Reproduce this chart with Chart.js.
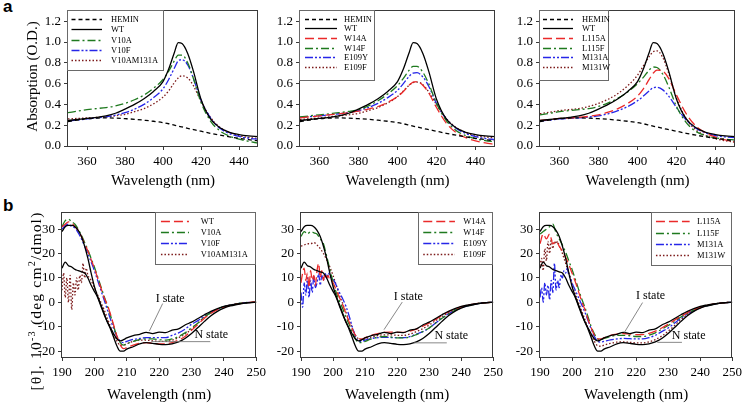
<!DOCTYPE html>
<html>
<head>
<meta charset="utf-8">
<script src="https://cdn.jsdelivr.net/npm/chart.js@4.4.1/dist/chart.umd.min.js"></script>
<style>
  body { margin: 0; background: #fff; }
  #wrap { position: relative; width: 747px; height: 408px; overflow: hidden; }
  canvas { position: absolute; }
  .tag { position: absolute; font: bold 17px "Liberation Sans", Arial, sans-serif; line-height: 17px; }
</style>
</head>
<body>
<div id="wrap">
  <div class="tag" style="left:3px;top:-2px">a</div>
  <div class="tag" style="left:3px;top:197px">b</div>
  <canvas id="a1"></canvas>
  <canvas id="a2"></canvas>
  <canvas id="a3"></canvas>
  <canvas id="b1"></canvas>
  <canvas id="b2"></canvas>
  <canvas id="b3"></canvas>
</div>
<script>
// ---- absorption spectra (row a) ----
const absWave = [350, 355, 360, 365, 370, 375, 380, 385, 390, 395, 400, 403, 406, 408, 410, 413, 416, 420, 425, 430, 435, 440, 445, 450];
const absHemin = [0.235, 0.25, 0.262, 0.268, 0.27, 0.268, 0.263, 0.257, 0.248, 0.238, 0.225, 0.214, 0.2, 0.191, 0.183, 0.17, 0.158, 0.142, 0.122, 0.104, 0.088, 0.074, 0.061, 0.05];
const absWT = [0.245, 0.255, 0.265, 0.276, 0.29, 0.315, 0.355, 0.4, 0.455, 0.525, 0.62, 0.74, 0.9, 0.995, 0.985, 0.89, 0.72, 0.45, 0.26, 0.175, 0.132, 0.11, 0.097, 0.09];
const absV10A = [0.32, 0.335, 0.35, 0.36, 0.37, 0.385, 0.41, 0.445, 0.49, 0.555, 0.64, 0.72, 0.82, 0.875, 0.875, 0.8, 0.65, 0.42, 0.24, 0.145, 0.095, 0.065, 0.045, 0.028];
const absV10F = [0.24, 0.25, 0.26, 0.27, 0.28, 0.297, 0.32, 0.355, 0.4, 0.465, 0.55, 0.64, 0.75, 0.82, 0.83, 0.78, 0.65, 0.44, 0.27, 0.17, 0.12, 0.092, 0.075, 0.065];
const absV10AM131A = [0.26, 0.265, 0.27, 0.275, 0.28, 0.29, 0.305, 0.33, 0.36, 0.405, 0.47, 0.53, 0.61, 0.655, 0.675, 0.655, 0.58, 0.43, 0.275, 0.18, 0.13, 0.1, 0.082, 0.072];
const absW14A = [0.27, 0.28, 0.29, 0.3, 0.31, 0.32, 0.335, 0.355, 0.38, 0.42, 0.475, 0.525, 0.585, 0.615, 0.62, 0.585, 0.51, 0.37, 0.22, 0.13, 0.08, 0.05, 0.03, 0.015];
const absW14F = [0.28, 0.29, 0.3, 0.31, 0.32, 0.333, 0.35, 0.385, 0.435, 0.5, 0.58, 0.65, 0.73, 0.765, 0.765, 0.71, 0.6, 0.41, 0.245, 0.15, 0.1, 0.07, 0.052, 0.04];
const absE109Y = [0.275, 0.283, 0.29, 0.3, 0.31, 0.322, 0.34, 0.37, 0.41, 0.465, 0.535, 0.6, 0.67, 0.7, 0.705, 0.665, 0.575, 0.41, 0.26, 0.17, 0.12, 0.09, 0.072, 0.062];
const absE109F = [0.255, 0.263, 0.27, 0.28, 0.29, 0.3, 0.315, 0.34, 0.37, 0.415, 0.475, 0.53, 0.585, 0.61, 0.615, 0.59, 0.52, 0.4, 0.265, 0.18, 0.13, 0.1, 0.087, 0.078];
const absL115A = [0.245, 0.255, 0.265, 0.27, 0.275, 0.285, 0.3, 0.325, 0.36, 0.41, 0.48, 0.55, 0.64, 0.7, 0.73, 0.72, 0.65, 0.49, 0.31, 0.19, 0.125, 0.085, 0.058, 0.04];
const absL115F = [0.3, 0.315, 0.33, 0.34, 0.35, 0.36, 0.38, 0.415, 0.46, 0.52, 0.6, 0.66, 0.73, 0.76, 0.755, 0.69, 0.57, 0.38, 0.225, 0.14, 0.1, 0.078, 0.066, 0.058];
const absM131A = [0.24, 0.25, 0.26, 0.265, 0.27, 0.278, 0.29, 0.31, 0.34, 0.38, 0.435, 0.48, 0.53, 0.56, 0.565, 0.54, 0.48, 0.37, 0.25, 0.17, 0.125, 0.1, 0.087, 0.08];
const absM131W = [0.31, 0.325, 0.34, 0.35, 0.36, 0.38, 0.41, 0.45, 0.505, 0.58, 0.68, 0.77, 0.86, 0.905, 0.915, 0.85, 0.7, 0.46, 0.26, 0.155, 0.1, 0.07, 0.05, 0.037];
const absXTicks = [360, 380, 400, 420, 440];
const absYTicks = [0, 0.2, 0.4, 0.6, 0.8, 1.0, 1.2];

// ---- CD spectra (row b) ----
const cdWave = [190, 191, 192, 193, 194, 195, 196, 197, 198, 199, 200, 201, 202, 203, 204, 205, 206, 207, 208, 209, 210,
  212, 214, 216, 218, 220, 222, 224, 226, 228, 230, 232, 234, 236, 238, 240, 242, 244, 246, 248, 250];
const cdWaveFine = [190, 190.5, 191, 191.5, 192, 192.5, 193, 193.5, 194, 194.5, 195, 195.5, 196, 196.5, 197, 197.5, 198, 198.5, 199, 199.5, 200,
  201, 202, 203, 204, 205, 206, 207, 208, 209, 210,
  212, 214, 216, 218, 220, 222, 224, 226, 228, 230, 232, 234, 236, 238, 240, 242, 244, 246, 248, 250];
const cdIState = [14, 16.5, 15, 14.5, 13.5, 13, 12.5, 12, 10, 7, 4.5, 2, -1.5, -5, -8, -10.5, -13, -15, -15.8, -15.3, -14.6,
  -13.6, -13.1, -12.3, -12.8, -12.2, -12.4, -11.4, -10.9, -9.3, -8.1, -6.6, -5.1, -3.7, -2.6, -1.7, -1.1, -0.6, -0.3, -0.1, 0];
const cdNState = [29, 31, 31.5, 31.5, 31, 29.5, 27, 23, 18, 12, 6.5, 2.5, -1, -4.5, -8, -11, -14.5, -18, -20, -20, -19.2,
  -18.2, -17, -16.5, -16.8, -17.2, -17.3, -17, -16.2, -14.8, -12.8, -10.3, -7.8, -5.5, -3.7, -2.4, -1.5, -0.9, -0.4, -0.1, 0];
const cdWT = [31, 32, 33, 32.5, 31, 29.5, 27, 24, 21, 17.5, 14, 10, 6, 2, -1, -5, -9.5, -14, -17.5, -19, -18.5,
  -17.5, -16.8, -16.5, -16.8, -17, -17, -16.5, -15.5, -14, -11.5, -9, -6.5, -4.5, -3, -2, -1.2, -0.7, -0.3, 0, 0.2];
const cdV10A = [31, 33.5, 34, 33, 32, 30, 27.5, 24.5, 21.5, 18, 14.5, 10.5, 6.5, 2.5, -1.5, -5.5, -10, -14, -16.5, -17.5, -17,
  -16, -15.3, -15, -15, -15.3, -15.5, -15, -14, -12.5, -10.5, -8.5, -6, -4.2, -2.8, -1.8, -1.1, -0.6, -0.2, 0, 0.1];
const cdV10F = [30, 31.5, 32, 31, 30.5, 28.5, 26, 23, 20, 16.5, 13, 9, 5, 1, -3, -7, -11, -14, -16, -16.5, -16,
  -15.2, -14.8, -14.5, -14.5, -14.5, -14.5, -13.5, -12.5, -11, -9, -7.5, -5.5, -4, -2.8, -1.8, -1.1, -0.6, -0.2, 0, 0.1];
const cdV10AM131A = [5, 12, 2, 10, 0, 11, -3, 8, 3, 10, 5, 11, 8, 16, 10, 14, 11, 10, 9, 7.5, 6,
  3, 0, -3, -6.5, -10, -13.5, -16, -17.5, -17.5, -17,
  -16, -15.5, -15.5, -15.8, -16, -16, -15.5, -14.5, -13, -11, -8.5, -6, -4.3, -2.9, -1.9, -1.1, -0.6, -0.3, -0.1, 0];
const cdW14A = [8, 12, 14, 9, 12, 6, 13, 9, 11, 7, 13, 16, 10, 13, 9, 12, 10, 11, 9, 9, 8,
  5, 2, -1, -4.5, -8, -11, -13.5, -15, -15, -14.5,
  -13.5, -12.8, -12.3, -12.2, -12.3, -12.3, -11.8, -11, -9.8, -8.5, -7, -5.3, -3.9, -2.8, -1.9, -1.2, -0.7, -0.3, -0.1, 0];
const cdW14F = [27, 29, 28, 29, 28.5, 28, 26, 24, 19, 13.5, 8.5, 4, 0.5, -2.5, -6, -9, -12, -15, -16.5, -16.5, -16,
  -15, -14.3, -14, -14.2, -14.6, -14.6, -14.2, -13.2, -12, -10.5, -8.5, -6.5, -4.8, -3.3, -2.3, -1.4, -0.8, -0.4, -0.1, 0];
const cdE109Y = [4, -2, 8, 3, 10, 2, 9, 4, 11, 6, 8, 12, 7, 11, 9, 12, 10, 12, 11, 10, 9.5,
  7, 4, 1.5, -1.5, -5.5, -10, -14, -16, -16, -15.5,
  -14.8, -14.5, -14.3, -14.4, -14.5, -14.5, -14, -13, -12, -10.5, -8.5, -6.5, -4.7, -3.3, -2.2, -1.4, -0.8, -0.4, -0.1, 0];
const cdE109F = [23, 23.5, 24, 24, 24.5, 23.5, 22, 20, 17.5, 14.5, 11, 7, 3, -0.5, -4, -7.5, -10.5, -13.5, -15, -15.5, -15,
  -14.2, -13.6, -13.3, -13.3, -13.5, -13.5, -13, -12, -10.8, -9.3, -7.5, -5.8, -4.2, -3, -2, -1.2, -0.7, -0.3, -0.1, 0];
const cdL115A = [24, 28, 26, 28, 24, 25, 23, 21, 18.5, 15.5, 12, 8.5, 4.5, 0.5, -3, -7, -10.5, -13.5, -15, -15, -14.5,
  -13.5, -13, -12.8, -13, -13.2, -13.2, -12.7, -11.8, -10.5, -9, -7.3, -5.7, -4.2, -3, -2, -1.3, -0.7, -0.3, -0.1, 0];
const cdL115F = [28, 29, 30, 31, 32, 28.5, 26, 23.5, 20.5, 17, 13.5, 9.5, 5.5, 1.5, -2, -6, -10, -13, -15, -15.3, -14.8,
  -14, -13.5, -13.5, -13.7, -14, -14, -13.5, -12.5, -11, -9.5, -7.8, -6, -4.5, -3.2, -2.2, -1.4, -0.8, -0.4, -0.1, 0];
const cdM131A = [2, 6, 0, 8, 3, 7, 1, 9, 4, 16, 5, 9, 6, 11, 10, 13, 12, 14, 11, 10, 8,
  5, 2, -1, -4, -7.5, -11, -14, -16, -16.3, -16,
  -15.4, -15, -14.8, -14.9, -15, -15, -14.5, -13.5, -12, -10.5, -8.5, -6.5, -4.7, -3.3, -2.2, -1.4, -0.8, -0.4, -0.1, 0];
const cdM131W = [15, 18, 13, 22, 17, 25, 20, 26, 22, 25, 24, 25, 23, 22, 20, 18, 16, 14, 12, 10, 7.5,
  3.5, 0, -3.5, -7, -10.5, -13.5, -16, -17.8, -18, -17.5,
  -16.8, -16.3, -16.2, -16.4, -16.6, -16.6, -16.2, -15.3, -13.8, -11.8, -9.5, -7, -5, -3.5, -2.3, -1.4, -0.8, -0.4, -0.1, 0];
const cdXTicks = [190, 200, 210, 220, 230, 240, 250];
const cdYTicks = [-20, -10, 0, 10, 20, 30];

const SERIF = '"Liberation Serif", "Times New Roman", serif';
const RED = '#ea2a2a', GREEN = '#1f7a1f', BLUE = '#2626e8', BROWN = '#7c1a1a', BLACK = '#000000';
const DASH_HEMIN = [4, 3], DASH_RED = [9, 4], DASH_GREEN = [8, 3, 2, 3], DASH_BLUE = [8, 2, 2, 2, 2, 2], DASH_BROWN = [1.5, 2];

function series(label, xs, ys, color, dash, inLegend = true) {
    return {
        label: label,
        data: xs.map((x, i) => ({ x: x, y: ys[i] })),
        borderColor: color,
        borderDash: dash,
        borderWidth: 1.3,
        pointRadius: 0,
        fill: false,
        cubicInterpolationMode: 'monotone',
        inLegend: inLegend
    };
}

// frame round the plot area
const framePlugin = {
    id: 'frame',
    afterDraw(chart) {
        const { ctx, chartArea: a } = chart;
        ctx.save();
        ctx.strokeStyle = '#3a3a3a';
        ctx.lineWidth = 1;
        ctx.strokeRect(Math.round(a.left) - 0.5, Math.round(a.top) + 0.5, Math.round(a.right - a.left), Math.round(a.bottom - a.top));
        ctx.restore();
    }
};

// legend box drawn inside the plot area
function boxLegend(o) {
    return {
        id: 'boxLegend',
        afterDraw(chart) {
            const { ctx, chartArea: a } = chart;
            const left = o.anchor === 'right' ? a.right - o.w : a.left;
            const top = a.top;
            ctx.save();
            ctx.fillStyle = '#fff';
            ctx.fillRect(left, top, o.w, o.h);
            ctx.strokeStyle = '#6a6a6a';
            ctx.lineWidth = 1;
            ctx.strokeRect(Math.round(left) - 0.5, Math.round(top) + 0.5, o.w, o.h);
            ctx.font = o.size + 'px ' + SERIF;
            ctx.textBaseline = 'middle';
            chart.data.datasets.filter(d => d.inLegend).forEach((d, i) => {
                const y = Math.round(top + o.first + i * o.row) + 0.5;
                ctx.strokeStyle = d.borderColor;
                ctx.lineWidth = d.borderWidth;
                ctx.setLineDash(d.borderDash || []);
                ctx.beginPath();
                ctx.moveTo(left + o.lineFrom, y);
                ctx.lineTo(left + o.lineTo, y);
                ctx.stroke();
                ctx.setLineDash([]);
                ctx.fillStyle = '#000';
                ctx.fillText(d.label, left + o.textAt, y);
            });
            ctx.restore();
        }
    };
}

// "I state" / "N state" labels with leader lines, in data units
function stateNotes(items) {
    return {
        id: 'stateNotes',
        afterDatasetsDraw(chart) {
            const { ctx, scales: { x, y } } = chart;
            ctx.save();
            ctx.strokeStyle = '#7a7a7a';
            ctx.lineWidth = 0.9;
            ctx.font = '12px ' + SERIF;
            ctx.fillStyle = '#000';
            ctx.textAlign = 'center';
            ctx.textBaseline = 'middle';
            items.forEach(n => {
                ctx.beginPath();
                ctx.moveTo(x.getPixelForValue(n.line[0]), y.getPixelForValue(n.line[1]));
                ctx.lineTo(x.getPixelForValue(n.line[2]), y.getPixelForValue(n.line[3]));
                ctx.stroke();
                ctx.fillText(n.text, x.getPixelForValue(n.at[0]), y.getPixelForValue(n.at[1]));
            });
            ctx.restore();
        }
    };
}

// rotated y title with superscript pieces, drawn char by char so it can be spaced out
function sideTitle(o) {
    return {
        id: 'sideTitle',
        afterDraw(chart) {
            const ctx = chart.ctx;
            const gap = o.spacing || 0;
            const fontFor = sup => (sup ? o.size * 0.66 : o.size) + 'px ' + SERIF;
            ctx.save();
            ctx.translate(o.x, o.y);
            ctx.rotate(-Math.PI / 2);
            let total = 0;
            o.parts.forEach(p => {
                ctx.font = fontFor(p[1]);
                for (const ch of p[0]) total += ctx.measureText(ch).width + gap;
            });
            let cx = -total / 2;
            ctx.fillStyle = '#000';
            ctx.textBaseline = 'alphabetic';
            o.parts.forEach(p => {
                ctx.font = fontFor(p[1]);
                const base = o.size * 0.35 - (p[1] ? o.size * 0.42 : 0);
                for (const ch of p[0]) {
                    ctx.fillText(ch, cx, base);
                    cx += ctx.measureText(ch).width + gap;
                }
            });
            ctx.restore();
        }
    };
}

function makePanel(id, box, cfg) {
    const cv = document.getElementById(id);
    cv.width = box.w;
    cv.height = box.h;
    cv.style.left = box.x + 'px';
    cv.style.top = box.y + 'px';
    const plugins = [framePlugin, stateNotes(cfg.notes || []), boxLegend(cfg.legend)];
    if (cfg.yTitle) plugins.push(sideTitle(cfg.yTitle));
    return new Chart(cv, {
        type: 'line',
        data: { datasets: cfg.datasets },
        options: {
            responsive: false,
            animation: false,
            devicePixelRatio: 1,
            layout: { padding: box.pad },
            plugins: { legend: { display: false }, tooltip: { enabled: false } },
            scales: {
                x: {
                    type: 'linear',
                    min: cfg.xMin,
                    max: cfg.xMax,
                    afterBuildTicks: s => { s.ticks = cfg.xTicks.map(v => ({ value: v })); },
                    afterFit: s => { s.height = box.xh; },
                    border: { display: false },
                    grid: { drawOnChartArea: false, drawTicks: true, tickLength: 4, color: '#3a3a3a' },
                    ticks: { color: '#000', font: { family: SERIF, size: 13 }, padding: 4, maxRotation: 0, autoSkip: false },
                    title: { display: true, text: 'Wavelength (nm)', color: '#000', font: { family: SERIF, size: 15 }, padding: 0 }
                },
                y: {
                    min: cfg.yMin,
                    max: cfg.yMax,
                    afterBuildTicks: s => { s.ticks = cfg.yTicks.map(v => ({ value: v })); },
                    afterFit: s => { s.width = 40; },
                    border: { display: false },
                    grid: { drawOnChartArea: false, drawTicks: true, tickLength: 4, color: '#3a3a3a' },
                    ticks: { color: '#000', font: { family: SERIF, size: 13 }, padding: 3, autoSkip: false, callback: cfg.yFormat }
                }
            }
        },
        plugins: plugins
    });
}

const absFormat = v => v.toFixed(1);
const cdFormat = v => String(v);
const rowA = { xMin: 350, xMax: 450, xTicks: absXTicks, yMin: 0, yMax: 1.31, yTicks: absYTicks, yFormat: absFormat };
const rowB = { xMin: 190, xMax: 250, xTicks: cdXTicks, yMin: -22.4, yMax: 37.1, yTicks: cdYTicks, yFormat: cdFormat };

function absBase() {
    return [
        series('HEMIN', absWave, absHemin, BLACK, DASH_HEMIN),
        series('WT', absWave, absWT, BLACK, [])
    ];
}
function cdBase() {
    return [
        series('I state', cdWave, cdIState, BLACK, [], false),
        series('N state', cdWave, cdNState, BLACK, [], false)
    ];
}

makePanel('a1', { x: 0, y: -1, w: 264, h: 191, xh: 44, pad: { left: 28, right: 6, top: 8, bottom: 0 } }, Object.assign({}, rowA, {
    datasets: absBase().concat([
        series('V10A', absWave, absV10A, GREEN, DASH_GREEN),
        series('V10F', absWave, absV10F, BLUE, DASH_BLUE),
        series('V10AM131A', absWave, absV10AM131A, BROWN, DASH_BROWN)
    ]),
    legend: { anchor: 'left', w: 96, h: 60, first: 9, row: 10.4, lineFrom: 3.5, lineTo: 34, textAt: 43, size: 8.5 },
    yTitle: { x: 31.5, y: 77.5, size: 15, parts: [['Absorption (O.D.)', false]] }
}));

makePanel('a2', { x: 260, y: -1, w: 241, h: 191, xh: 44, pad: { left: 0, right: 6, top: 8, bottom: 0 } }, Object.assign({}, rowA, {
    datasets: absBase().concat([
        series('W14A', absWave, absW14A, RED, DASH_RED),
        series('W14F', absWave, absW14F, GREEN, DASH_GREEN),
        series('E109Y', absWave, absE109Y, BLUE, DASH_BLUE),
        series('E109F', absWave, absE109F, BROWN, DASH_BROWN)
    ]),
    legend: { anchor: 'left', w: 75, h: 70, first: 8.7, row: 9.7, lineFrom: 5, lineTo: 37, textAt: 44, size: 8.5 }
}));

makePanel('a3', { x: 500, y: -1, w: 241, h: 191, xh: 44, pad: { left: 0, right: 6, top: 8, bottom: 0 } }, Object.assign({}, rowA, {
    datasets: absBase().concat([
        series('L115A', absWave, absL115A, RED, DASH_RED),
        series('L115F', absWave, absL115F, GREEN, DASH_GREEN),
        series('M131A', absWave, absM131A, BLUE, DASH_BLUE),
        series('M131W', absWave, absM131W, BROWN, DASH_BROWN)
    ]),
    legend: { anchor: 'left', w: 69, h: 70, first: 8.7, row: 9.7, lineFrom: 3, lineTo: 33, textAt: 42, size: 8.5 }
}));

makePanel('b1', { x: 0, y: 201, w: 270, h: 203, xh: 47, pad: { left: 22, right: 12, top: 8, bottom: 0 } }, Object.assign({}, rowB, {
    datasets: cdBase().concat([
        series('WT', cdWave, cdWT, RED, DASH_RED),
        series('V10A', cdWave, cdV10A, GREEN, DASH_GREEN),
        series('V10F', cdWave, cdV10F, BLUE, DASH_BLUE),
        series('V10AM131A', cdWaveFine, cdV10AM131A, BROWN, DASH_BROWN)
    ]),
    legend: { anchor: 'right', w: 100, h: 52, first: 9, row: 11.2, lineFrom: 4.7, lineTo: 32.7, textAt: 44.4, size: 8.5 },
    notes: [
        { text: 'I state', at: [223.4, 1.6], line: [221.1, -0.5, 217, -11.7] },
        { text: 'N state', at: [236.1, -13.3], line: [217.6, -16.1, 235.8, -16.1] }
    ],
    yTitle: { x: 36, y: 100, size: 15.5, spacing: 1.2, parts: [['[θ]. 10', false], ['-3', true], [' (deg cm', false], ['2', true], ['/dmol)', false]] }
}));

makePanel('b2', { x: 261, y: 201, w: 246, h: 203, xh: 47, pad: { left: 0, right: 12, top: 8, bottom: 0 } }, Object.assign({}, rowB, {
    datasets: cdBase().concat([
        series('W14A', cdWaveFine, cdW14A, RED, DASH_RED),
        series('W14F', cdWave, cdW14F, GREEN, DASH_GREEN),
        series('E109Y', cdWaveFine, cdE109Y, BLUE, DASH_BLUE),
        series('E109F', cdWave, cdE109F, BROWN, DASH_BROWN)
    ]),
    legend: { anchor: 'right', w: 74, h: 52, first: 9, row: 11.2, lineFrom: 4, lineTo: 35.7, textAt: 44, size: 8.5 },
    notes: [
        { text: 'I state', at: [223.5, 2.4], line: [221.6, 0.1, 215.9, -11.2] },
        { text: 'N state', at: [236.9, -13.7], line: [225.2, -16.6, 235.5, -16.6] }
    ]
}));

makePanel('b3', { x: 500, y: 201, w: 246, h: 203, xh: 47, pad: { left: 0, right: 12, top: 8, bottom: 0 } }, Object.assign({}, rowB, {
    datasets: cdBase().concat([
        series('L115A', cdWave, cdL115A, RED, DASH_RED),
        series('L115F', cdWave, cdL115F, GREEN, DASH_GREEN),
        series('M131A', cdWaveFine, cdM131A, BLUE, DASH_BLUE),
        series('M131W', cdWaveFine, cdM131W, BROWN, DASH_BROWN)
    ]),
    legend: { anchor: 'right', w: 80, h: 53, first: 9.5, row: 11.2, lineFrom: 3.7, lineTo: 37.4, textAt: 44.7, size: 8.5 },
    notes: [
        { text: 'I state', at: [224.5, 2.6], line: [222, -0.1, 216.3, -12.4] },
        { text: 'N state', at: [236.4, -13.7], line: [226.6, -16.4, 234.3, -16.4] }
    ]
}));
</script>
</body>
</html>
